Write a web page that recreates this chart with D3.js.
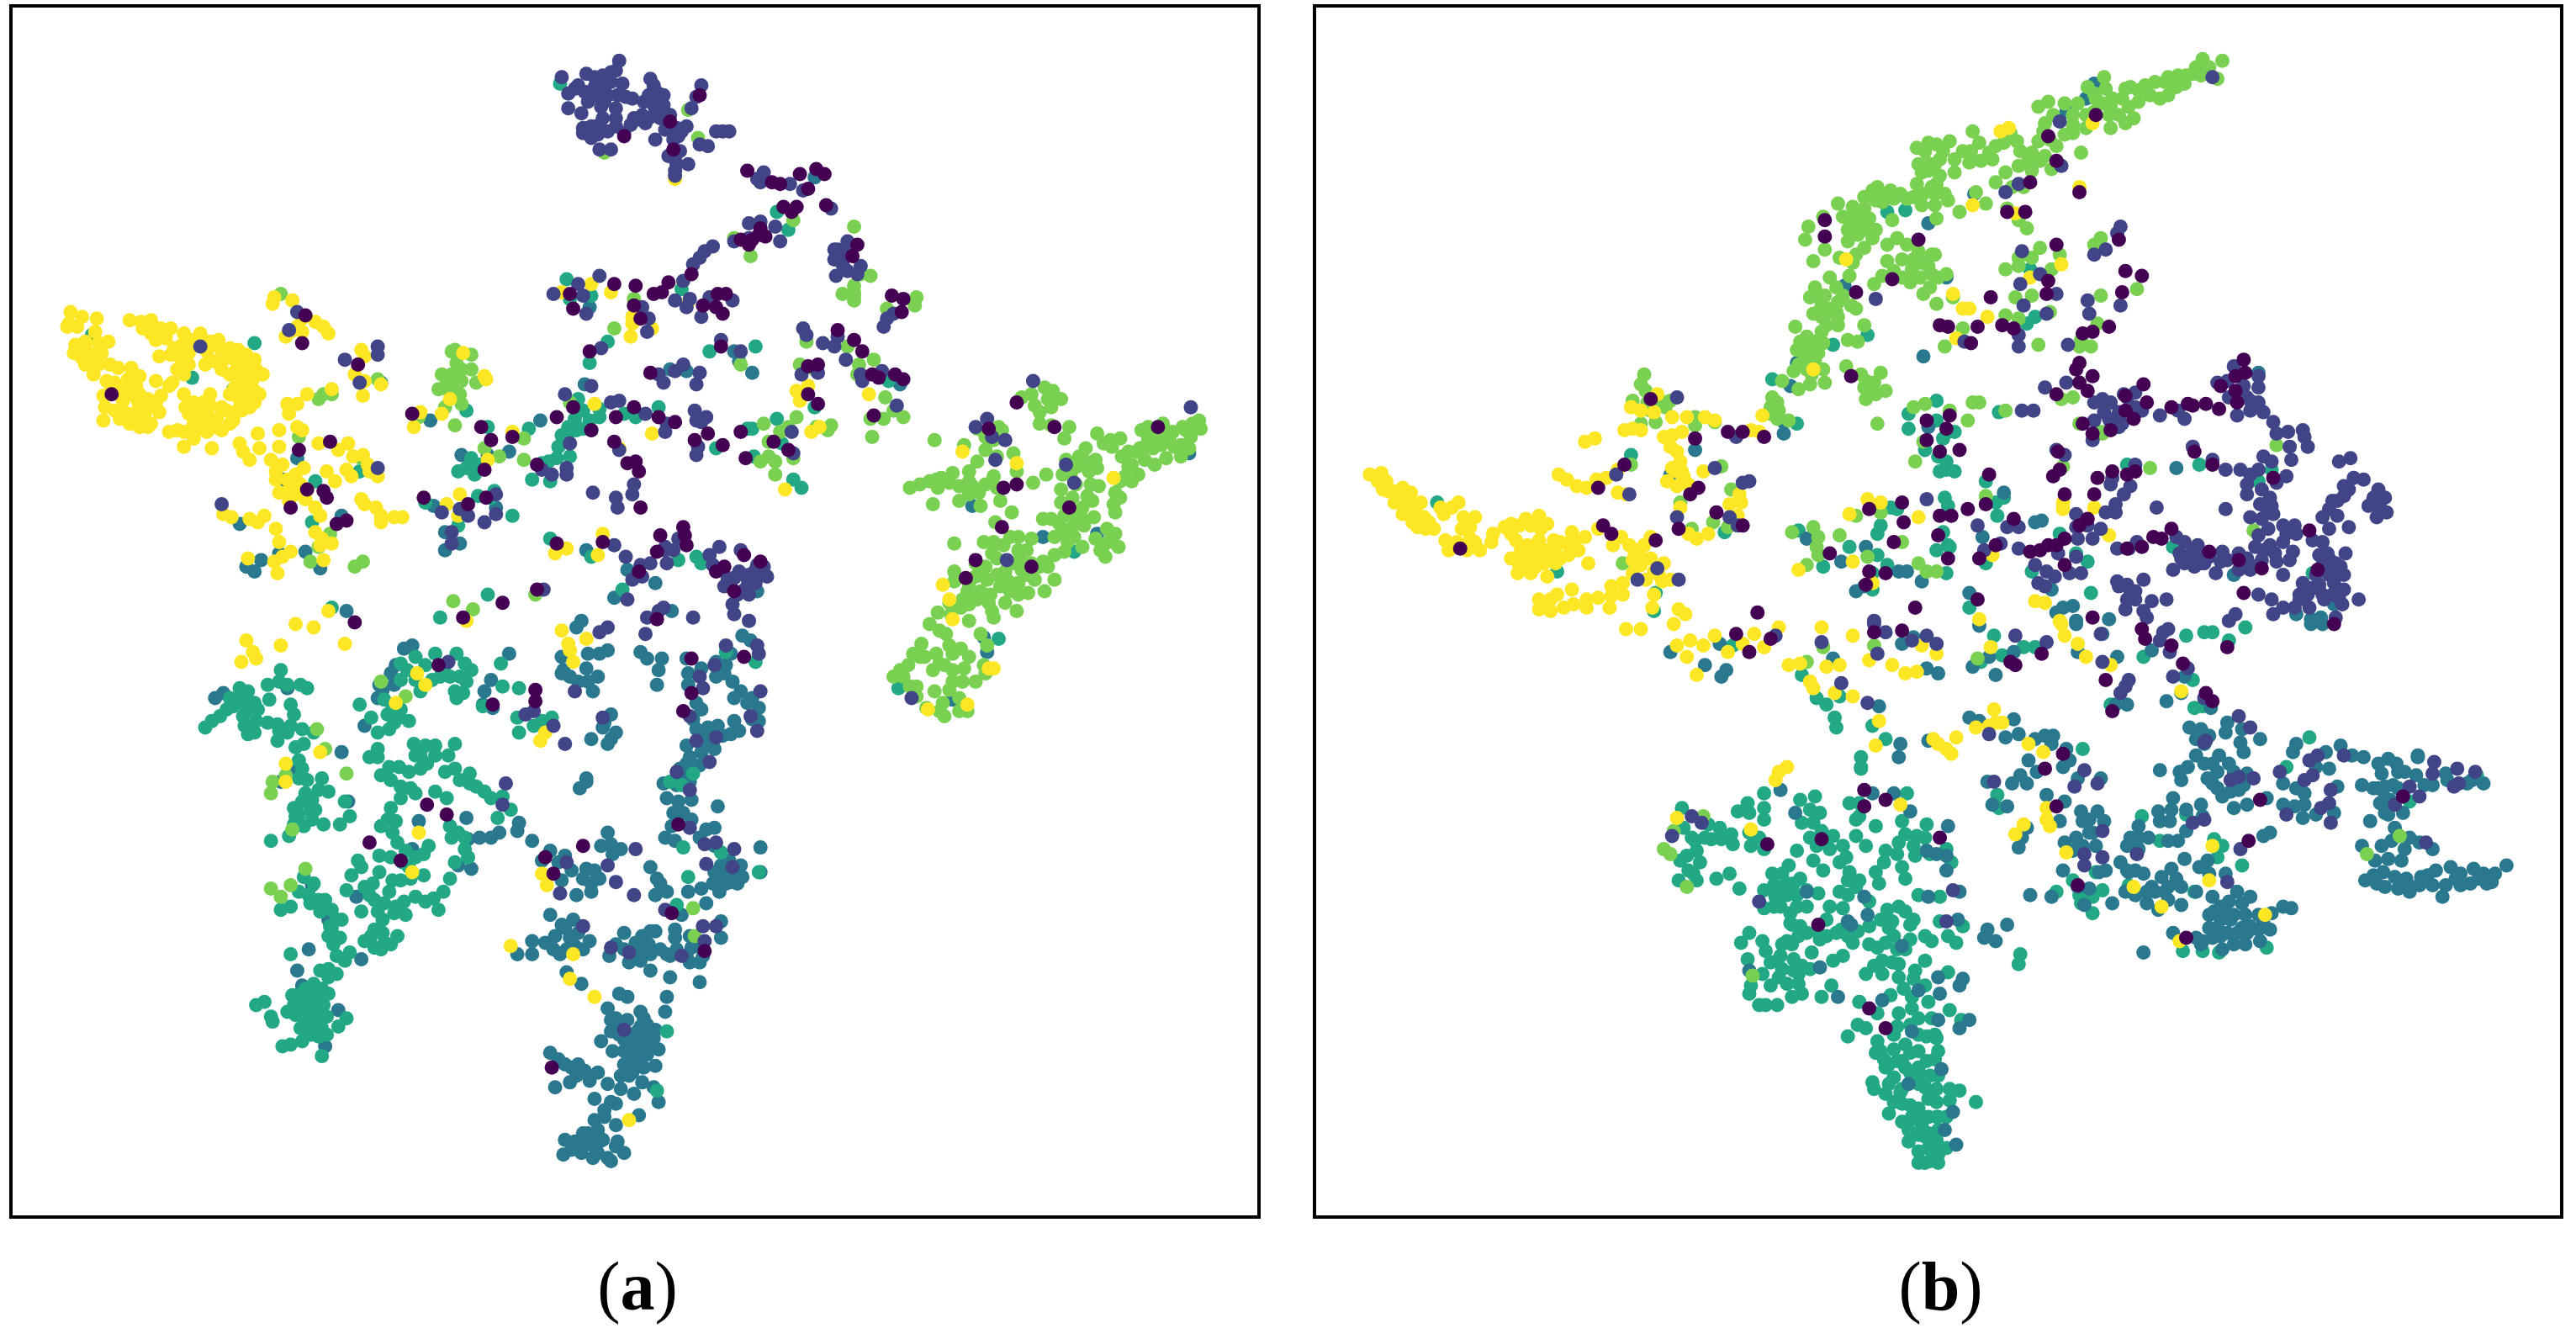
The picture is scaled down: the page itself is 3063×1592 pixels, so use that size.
<!DOCTYPE html>
<html>
<head>
<meta charset="utf-8">
<script src="https://cdn.jsdelivr.net/npm/d3@7/dist/d3.min.js"></script>
<style>html,body{margin:0;padding:0;background:#fff}svg{display:block}</style>
</head>
<body>
<script>
const classColors = ["#440154","#414487","#2a788e","#22a884","#7ad151","#fde725"];
const panelLabels = ["a","b"];

const aBlue = [[390,397],[394,401],[403,401],[401,408],[400,417],[418,401],[419,410],[427,407],[419,417],[424,428],[427,432],[436,412],[442,405],[446,415],[451,421],[452,387],[457,390],[436,403],[445,398],[455,428],[462,431],[462,439],[447,439],[445,447],[437,442],[431,443],[424,444],[434,449],[427,458],[435,456],[418,454],[420,461],[414,468],[420,476],[404,477],[421,487],[406,486],[413,488],[437,491],[421,499],[435,504],[409,503],[405,510],[426,510],[411,512],[435,515],[463,516],[463,531],[396,528],[400,535],[406,543],[399,545],[419,543],[427,541],[430,550],[415,557],[439,527],[444,524],[435,531],[442,538],[449,538],[451,527],[440,534],[446,532],[439,561],[439,571],[411,566],[411,571],[421,577],[420,586],[426,586],[426,598],[408,595],[408,582],[396,567],[399,567],[391,570],[406,581],[396,581],[390,585],[396,591],[406,607],[405,616],[390,616],[394,624],[399,627],[390,632],[396,634],[401,639],[394,642],[399,649],[390,648],[391,659],[398,662],[401,671],[389,679],[370,614],[372,621],[366,634],[382,621],[385,630],[377,630],[387,638],[380,648],[385,653],[378,663],[372,671],[386,666],[362,669],[364,688],[375,685],[355,690],[344,694],[343,703],[354,702],[360,697],[364,702],[370,705],[372,707],[380,702],[361,705],[367,694],[357,697],[335,641],[338,662],[344,648],[352,648],[351,655],[347,659],[359,658],[364,653],[375,620],[380,640],[390,625],[383,655],[368,680],[376,695],[335,557],[342,563],[349,560],[352,568],[332,574],[337,578],[341,581],[347,571],[359,573],[355,578],[324,573],[315,581],[324,581],[345,592],[354,599],[377,605],[382,607],[380,568],[371,582],[383,586],[387,574],[370,507],[372,514],[378,517],[357,529],[365,535],[360,543],[351,545],[342,536],[335,518],[330,524],[344,521],[324,512],[315,506],[316,501],[304,507],[299,510],[292,510],[285,511],[287,529],[279,527],[284,498],[357,474],[353,480],[357,476],[342,400],[342,410],[352,415],[361,421],[357,407],[365,398],[370,396],[372,435],[367,443],[360,450],[370,453],[375,446],[364,412],[351,382],[251,393],[241,405],[231,417],[230,425],[240,417],[222,442],[299,414],[295,421],[294,429],[300,431],[310,398],[131,425],[136,422],[175,419],[208,458],[181,469],[171,476],[190,539],[200,560],[217,546],[220,584],[188,578],[181,591],[184,600],[206,615],[198,637],[212,488],[255,500],[251,517],[281,277],[297,277],[310,275],[329,256],[264,308],[302,309],[262,256],[271,324],[271,335],[280,331],[359,187],[356,234],[173,292],[146,319],[208,314],[170,337],[159,341],[150,345],[155,348],[186,336],[195,346],[181,279],[232,233],[211,372],[354,378],[374,364],[382,347],[357,335],[399,355],[461,360],[409,372],[496,108],[592,308],[635,327],[668,325],[724,276],[580,426],[601,397],[599,388],[548,234],[447,214],[450,220],[458,227],[408,225],[418,226],[372,628],[378,625],[384,635],[373,640],[380,633],[390,640],[395,630],[385,645],[392,650],[378,655],[370,660],[375,672],[368,676],[362,682],[358,690],[350,695],[348,700],[365,695],[375,698],[340,645],[348,650],[356,652],[441,410],[447,425],[458,425],[458,438],[450,445],[440,448],[430,452],[426,466],[418,465],[415,472],[412,478],[428,448],[422,438],[410,495],[416,495],[430,505],[440,530],[445,537],[438,543],[434,538],[452,534],[402,538],[395,575],[402,578],[412,578],[418,582],[424,575],[420,570],[428,582],[344,565],[338,570],[350,576],[345,578],[386,580],[390,578],[380,578],[375,575],[392,620],[398,632],[388,628],[394,636],[384,650],[340,525],[348,530],[355,535],[362,530],[366,515],[373,520],[360,538],[343,408],[347,412],[358,398],[358,415],[368,440],[372,450],[238,410],[233,420],[246,395]];

const aTeal = [[125,443],[129,439],[134,436],[138,432],[140,425],[146,419],[151,421],[149,428],[155,428],[148,436],[149,442],[151,447],[155,446],[156,439],[163,440],[169,441],[175,446],[169,451],[177,442],[179,435],[177,429],[164,426],[163,417],[170,415],[171,408],[175,417],[183,417],[187,419],[146,426],[184,444],[191,446],[185,453],[182,463],[182,474],[187,475],[196,474],[194,481],[200,482],[186,483],[179,492],[189,493],[182,496],[192,493],[179,502],[185,503],[197,502],[176,509],[165,512],[190,499],[210,488],[213,497],[207,502],[219,429],[226,437],[230,446],[237,444],[236,435],[243,437],[249,439],[239,431],[244,414],[253,414],[248,408],[253,400],[244,404],[265,398],[263,414],[268,412],[274,412],[278,398],[283,404],[287,408],[284,415],[282,422],[277,421],[278,425],[256,421],[305,404],[306,418],[316,419],[294,430],[315,437],[316,446],[325,442],[330,439],[336,437],[230,456],[230,461],[225,461],[232,472],[237,467],[243,467],[249,470],[256,468],[253,460],[252,453],[259,454],[265,454],[265,460],[273,460],[277,453],[277,468],[286,471],[286,477],[295,482],[299,486],[306,485],[311,493],[303,498],[244,479],[253,483],[272,486],[265,482],[238,492],[236,499],[232,503],[239,507],[242,513],[247,518],[253,522],[261,515],[249,528],[244,486],[274,503],[279,507],[283,517],[285,522],[277,525],[274,535],[270,543],[258,533],[231,521],[238,522],[218,524],[220,528],[231,531],[214,533],[211,542],[222,540],[227,538],[228,548],[234,550],[241,552],[247,557],[246,549],[253,546],[259,549],[264,547],[267,554],[244,536],[239,536],[237,543],[233,560],[228,566],[222,573],[228,577],[232,578],[238,575],[242,570],[233,568],[185,534],[191,538],[194,548],[198,548],[182,543],[177,552],[171,554],[189,550],[202,554],[201,564],[208,560],[200,570],[207,571],[203,575],[213,580],[210,585],[205,593],[195,591],[177,581],[191,599],[186,602],[181,606],[191,607],[200,605],[196,602],[179,612],[186,613],[194,614],[175,616],[184,619],[192,619],[199,619],[187,624],[195,624],[189,630],[199,630],[194,631],[211,620],[206,625],[184,634],[177,636],[172,637],[196,643],[156,612],[161,610],[165,619],[166,622],[185,609],[352,243],[365,254],[359,256],[365,249],[346,260],[355,261],[346,264],[342,265],[351,262],[322,261],[387,254],[380,252],[347,278],[339,279],[334,281],[324,292],[335,293],[312,314],[279,287],[287,279],[292,283],[289,289],[284,285],[299,303],[301,299],[291,302],[259,306],[279,320],[284,250],[297,260],[345,170],[360,180],[347,182],[359,221],[370,208],[56,204],[155,209],[117,230],[219,287],[192,293],[190,318],[202,370],[268,376],[297,362],[335,328],[360,339],[379,359],[460,403],[442,397],[422,471],[408,476],[416,516],[439,519],[419,534],[412,551],[406,628],[400,664],[462,531],[415,478],[424,339],[427,343],[413,341],[473,129],[480,140],[432,214],[460,211],[401,248],[473,255],[455,261],[458,261],[476,270],[459,278],[483,292],[488,297],[496,248],[541,232],[415,176],[341,51],[398,53],[654,336],[547,419],[608,389],[436,273],[355,250],[350,255],[345,268],[340,272],[330,282],[360,262],[185,613],[190,625],[180,618],[193,608],[187,606],[196,626],[190,614],[197,612],[183,626],[178,606],[240,440],[244,432],[234,426],[259,405],[271,405],[280,412],[256,460],[260,465],[238,475],[250,480],[241,500],[245,525],[258,520],[250,535],[225,545],[220,555],[230,555],[240,556],[205,582],[202,565],[188,545],[195,555],[205,560],[150,433],[142,430],[157,432],[170,445],[180,455],[184,468],[190,487],[184,488],[180,497],[200,590],[200,595],[226,570],[234,574],[271,470],[280,475],[290,479],[275,510],[283,510]];

const aLime = [[554,297],[560,295],[566,293],[573,291],[580,288],[568,307],[571,297],[584,296],[590,301],[584,305],[597,308],[590,287],[595,281],[600,274],[587,271],[595,261],[608,260],[605,268],[617,276],[619,287],[607,297],[609,305],[629,294],[637,289],[569,268],[616,312],[606,318],[581,331],[622,242],[636,236],[638,243],[646,243],[633,251],[633,258],[640,259],[651,260],[648,267],[628,240],[641,238],[668,264],[676,268],[682,267],[661,273],[677,272],[657,278],[667,280],[683,278],[649,280],[656,284],[647,289],[663,287],[664,295],[669,296],[662,302],[653,303],[646,298],[646,306],[659,309],[648,314],[645,319],[640,316],[635,316],[666,315],[659,316],[653,321],[647,324],[642,327],[654,327],[659,333],[648,336],[642,338],[628,328],[682,293],[689,293],[693,289],[687,284],[678,307],[679,312],[679,300],[692,275],[697,272],[703,267],[699,260],[708,258],[714,263],[720,260],[726,258],[730,256],[731,261],[725,266],[719,271],[719,278],[724,273],[710,279],[703,283],[697,280],[702,273],[707,271],[712,268],[694,273],[699,268],[705,264],[689,283],[679,325],[674,322],[681,333],[673,339],[672,332],[667,328],[599,330],[605,330],[615,327],[620,327],[604,337],[611,332],[620,335],[614,343],[621,341],[622,347],[612,348],[635,342],[628,343],[633,345],[581,348],[594,343],[594,351],[601,353],[581,354],[609,357],[614,354],[620,355],[630,353],[642,353],[636,360],[626,361],[620,362],[589,360],[597,360],[586,365],[578,367],[571,373],[579,374],[585,370],[602,367],[604,372],[619,372],[612,367],[605,376],[595,365],[576,386],[578,393],[561,392],[556,398],[570,398],[580,398],[553,405],[544,412],[550,412],[558,418],[558,424],[568,408],[569,421],[574,428],[564,431],[575,436],[584,425],[584,433],[589,433],[580,415],[580,408],[587,407],[594,415],[597,386],[601,393],[599,405],[600,410],[566,380],[590,378],[560,400],[425,84],[419,67],[368,93],[483,134],[457,156],[447,145],[520,138],[524,167],[530,168],[520,174],[513,179],[520,180],[520,183],[520,178],[558,181],[557,186],[540,188],[491,208],[516,211],[487,222],[532,219],[523,222],[522,228],[496,225],[451,222],[539,242],[544,250],[538,255],[530,255],[550,254],[531,266],[465,258],[485,254],[480,260],[475,263],[468,269],[483,279],[463,281],[468,278],[472,281],[472,289],[506,259],[504,262],[497,260],[275,214],[287,216],[269,228],[275,228],[281,225],[287,225],[267,237],[274,239],[281,232],[271,248],[281,246],[290,233],[277,213],[277,259],[319,267],[319,280],[304,278],[295,273],[255,254],[347,245],[171,179],[142,237],[197,240],[194,243],[202,240],[230,231],[182,266],[220,279],[194,333],[201,325],[189,342],[216,345],[221,342],[276,366],[288,371],[326,362],[386,182],[374,200],[193,444],[198,456],[211,471],[174,472],[166,476],[165,483],[178,505],[186,529],[165,541],[171,546],[177,539],[232,415],[247,424],[422,553],[423,570],[625,335],[617,343],[607,340],[607,350],[596,350],[590,355],[600,345],[615,360],[625,350],[638,345],[603,362],[590,368],[650,330],[655,315],[660,320],[665,305],[655,295],[652,288],[668,285],[660,280],[672,270],[687,275],[695,262],[700,264],[715,272],[722,262],[708,262],[685,290],[682,303],[675,330],[670,335],[570,292],[578,294],[590,293],[592,296],[600,295],[596,300],[605,290],[607,278],[600,266],[610,262],[640,248],[630,247],[572,404],[563,400],[548,408],[554,418],[575,405],[586,415],[572,384],[585,395],[590,400],[578,420],[572,433],[280,240],[275,235],[272,232],[278,221]];

const aYellow = [[43,190],[50,193],[42,197],[47,199],[59,194],[41,199],[46,210],[52,208],[45,215],[52,213],[60,209],[66,208],[50,218],[56,216],[62,215],[60,222],[52,222],[67,222],[72,224],[80,224],[85,229],[78,231],[70,233],[66,240],[75,238],[80,240],[83,235],[63,241],[79,195],[86,196],[92,195],[87,200],[92,203],[98,200],[95,207],[104,200],[101,206],[112,203],[118,207],[111,210],[106,212],[97,217],[104,216],[122,203],[128,208],[133,207],[126,214],[134,212],[140,212],[145,213],[131,220],[138,218],[144,220],[150,216],[155,219],[156,225],[150,224],[144,225],[147,231],[154,231],[160,228],[143,236],[150,236],[155,238],[147,243],[152,243],[140,240],[158,240],[152,248],[145,250],[155,245],[146,248],[108,225],[115,222],[112,228],[95,232],[103,235],[98,241],[105,233],[85,240],[90,243],[88,250],[95,245],[84,250],[75,244],[70,250],[64,248],[63,256],[73,255],[78,252],[82,256],[88,253],[90,260],[97,251],[92,258],[85,260],[79,258],[74,250],[112,240],[118,245],[115,252],[124,245],[113,248],[120,250],[128,240],[128,247],[135,248],[132,255],[138,250],[130,260],[123,255],[142,256],[142,252],[147,250],[103,263],[108,262],[112,263],[116,262],[120,257],[125,260],[118,267],[120,262],[126,263],[130,255],[112,272],[129,273],[122,254],[146,270],[157,264],[170,262],[181,260],[184,262],[175,246],[181,246],[176,252],[187,240],[202,237],[158,273],[165,280],[152,280],[148,275],[170,272],[194,270],[206,274],[212,270],[215,278],[224,283],[221,277],[211,286],[214,290],[230,290],[199,287],[204,293],[180,289],[178,295],[174,300],[180,301],[185,285],[168,287],[168,292],[186,304],[192,309],[195,314],[220,304],[222,307],[229,309],[232,314],[240,315],[245,315],[232,318],[136,313],[141,315],[152,316],[157,318],[161,314],[168,322],[170,330],[177,336],[167,342],[169,349],[172,339],[151,340],[192,324],[196,328],[202,331],[195,332],[197,341],[280,301],[279,314],[272,307],[338,337],[345,334],[367,325],[364,338],[167,181],[166,185],[178,183],[192,196],[197,199],[200,203],[184,194],[181,199],[177,202],[174,205],[184,202],[220,213],[222,217],[216,228],[222,232],[232,234],[221,241],[282,215],[295,229],[296,231],[274,243],[269,252],[256,251],[252,260],[297,280],[312,263],[385,193],[385,197],[384,205],[372,178],[360,173],[342,178],[362,246],[377,273],[419,184],[397,200],[485,238],[487,244],[492,235],[529,240],[494,263],[499,260],[397,264],[478,298],[586,275],[619,282],[678,291],[574,356],[578,365],[580,377],[411,109],[174,465],[195,458],[174,476],[255,507],[241,428],[254,410],[259,417],[251,531],[329,451],[332,446],[311,576],[349,581],[347,596],[362,607],[330,532],[333,539],[383,682],[347,396],[349,403],[342,384],[346,392],[357,389],[150,390],[154,397],[156,401],[147,403],[180,380],[191,382],[210,392],[171,393],[200,372],[284,378],[605,407],[602,407],[589,429],[565,432],[57,228],[65,232],[58,202],[72,240],[110,218],[115,215],[135,225],[152,228],[140,228],[134,222],[125,222],[145,242],[118,258],[125,250],[135,262],[140,258],[92,248],[84,244],[170,300],[176,305],[183,295],[187,298],[175,292],[172,283],[225,287]];

const aNavy = [[342,47],[346,57],[352,52],[357,45],[362,53],[367,46],[375,43],[377,37],[379,51],[381,59],[346,66],[354,69],[366,65],[375,66],[367,72],[375,77],[386,72],[360,77],[355,81],[364,82],[380,81],[365,91],[372,91],[350,54],[360,58],[365,59],[398,52],[401,57],[398,64],[391,70],[401,65],[393,75],[404,64],[399,85],[418,77],[421,66],[424,59],[427,52],[410,85],[414,92],[411,97],[411,104],[411,107],[419,100],[440,80],[436,80],[444,80],[426,88],[431,89],[372,50],[385,60],[392,62],[412,78],[405,72],[461,109],[465,105],[463,111],[481,112],[489,116],[506,127],[456,136],[463,135],[472,138],[475,147],[447,147],[456,145],[434,150],[429,153],[426,157],[422,161],[416,171],[411,183],[418,187],[432,181],[446,183],[427,193],[391,187],[395,194],[394,202],[508,152],[516,147],[508,158],[513,161],[518,151],[524,162],[522,167],[509,168],[544,191],[540,194],[538,199],[489,200],[491,204],[501,209],[510,205],[508,211],[515,219],[488,228],[498,227],[524,228],[525,232],[537,226],[439,207],[451,214],[401,228],[404,233],[411,226],[416,222],[426,227],[424,234],[393,252],[406,258],[405,263],[423,250],[430,254],[424,256],[427,257],[425,272],[424,277],[482,263],[483,276],[546,247],[629,232],[725,248],[601,255],[594,260],[612,268],[604,266],[606,280],[649,283],[654,294],[613,341],[337,179],[352,173],[355,180],[365,168],[357,191],[366,212],[344,240],[360,235],[347,270],[345,285],[345,289],[336,289],[330,286],[372,245],[377,244],[377,274],[361,300],[375,303],[376,309],[385,301],[386,295],[302,301],[269,312],[280,310],[285,314],[275,324],[275,331],[295,318],[302,313],[181,190],[176,201],[230,211],[230,216],[210,219],[219,233],[122,211],[135,307],[230,285],[381,339],[385,353],[390,344],[382,365],[331,359],[374,332],[413,328],[405,335],[410,335],[396,343],[406,343],[391,351],[438,333],[432,338],[451,335],[434,344],[461,344],[461,350],[467,351],[456,350],[445,354],[441,357],[455,357],[449,362],[446,368],[447,374],[456,362],[456,378],[422,376],[404,370],[401,372],[394,376],[273,403],[320,435],[325,433],[337,442],[344,453],[308,477],[306,490],[367,437],[350,421],[365,385],[370,382],[345,525],[370,527],[375,537],[341,544],[386,545],[355,564],[372,577],[383,580],[380,627],[387,517],[393,386],[435,405],[426,412],[428,419],[420,436],[436,449],[424,451],[432,464],[412,470],[420,481],[420,504],[457,436],[463,421],[461,445],[447,517],[436,513],[429,514],[430,526],[446,528],[428,564],[436,564],[415,582],[429,573],[405,554],[442,393],[461,393],[462,398],[555,425],[356,56],[370,58],[376,58],[368,52],[362,47],[372,44],[384,76],[390,73],[395,72],[398,70],[395,58],[404,58],[396,48],[358,62],[368,62],[375,72],[370,80],[360,84],[410,92],[412,100],[407,95],[413,83],[405,79],[415,80],[355,78],[365,76],[402,72],[408,70],[455,352],[460,347],[450,348],[460,355],[465,345],[452,360],[447,352],[443,352],[515,155],[510,152],[516,165],[420,182],[405,333]];

const aPurple = [[426,58],[408,74],[410,91],[380,83],[455,104],[470,111],[475,112],[487,106],[492,115],[497,103],[502,106],[503,125],[477,126],[485,126],[482,129],[451,146],[456,149],[462,143],[466,144],[458,146],[463,139],[421,167],[407,172],[403,178],[398,179],[437,179],[442,179],[428,186],[436,187],[440,191],[390,194],[522,149],[519,156],[543,180],[550,182],[549,190],[510,201],[520,207],[525,214],[492,223],[498,222],[531,228],[535,230],[545,228],[550,231],[532,253],[498,246],[492,240],[439,211],[396,227],[401,254],[411,257],[431,264],[423,268],[440,271],[451,263],[471,269],[480,274],[454,279],[619,245],[642,260],[602,261],[611,297],[619,295],[610,321],[588,352],[594,341],[628,345],[651,309],[705,260],[347,179],[349,188],[374,173],[359,214],[387,174],[386,186],[339,254],[375,254],[386,248],[299,268],[293,260],[312,266],[327,283],[374,269],[382,282],[387,281],[389,287],[390,309],[251,252],[258,303],[285,307],[296,303],[295,286],[360,262],[349,248],[186,192],[184,209],[218,222],[68,240],[201,269],[182,274],[187,298],[197,299],[199,303],[177,309],[205,319],[211,317],[216,379],[306,367],[282,376],[327,359],[339,331],[367,330],[389,348],[402,326],[416,321],[417,326],[418,332],[400,336],[441,345],[436,348],[463,342],[453,338],[447,360],[400,377],[267,405],[326,420],[326,427],[300,429],[260,490],[272,496],[225,513],[244,524],[355,515],[332,522],[337,532],[336,650],[421,401],[421,422],[416,433],[453,400],[413,502],[409,556],[429,579]];

const bTeal = [[1024,492],[1025,504],[1030,510],[1040,502],[1047,504],[1042,511],[1048,511],[1054,508],[1055,514],[1033,518],[1027,521],[1023,524],[1031,532],[1033,536],[1022,536],[1045,535],[1053,532],[1059,541],[1064,489],[1065,495],[1058,494],[1074,483],[1074,492],[1074,499],[1065,507],[1066,515],[1074,517],[1071,510],[1096,487],[1102,493],[1097,501],[1104,501],[1109,506],[1102,510],[1116,509],[1114,517],[1106,515],[1104,524],[1094,518],[1124,522],[1130,509],[1136,515],[1142,503],[1126,531],[1125,536],[1132,536],[1142,531],[1144,538],[1089,527],[1079,532],[1074,542],[1085,532],[1096,535],[1080,539],[1088,538],[1081,546],[1074,553],[1080,552],[1094,552],[1090,556],[1096,564],[1091,563],[1107,544],[1114,552],[1120,543],[1122,553],[1138,549],[1065,568],[1060,574],[1073,573],[1075,579],[1088,573],[1091,575],[1100,568],[1106,567],[1112,570],[1121,566],[1128,574],[1131,567],[1138,564],[1084,582],[1078,586],[1083,595],[1073,593],[1064,584],[1066,600],[1065,605],[1078,600],[1092,584],[1097,588],[1103,580],[1092,591],[1116,585],[1122,582],[1088,599],[1095,599],[1097,605],[1091,607],[1109,607],[1115,600],[1071,612],[1075,612],[1082,612],[1132,497],[1126,489],[1132,489],[1130,499],[1161,483],[1158,500],[1167,509],[1173,502],[1156,513],[1148,518],[1166,521],[1158,528],[1133,461],[1133,468],[1149,554],[1156,552],[1152,561],[1163,563],[1153,570],[1148,574],[1143,577],[1176,573],[1172,585],[1141,588],[1152,586],[1136,593],[1146,593],[1156,595],[1166,591],[1159,602],[1164,607],[1151,606],[1132,610],[1143,617],[1156,617],[1164,614],[1131,624],[1136,626],[1125,631],[1143,634],[1153,630],[1163,624],[1173,631],[1142,641],[1153,639],[1163,641],[1150,648],[1158,646],[1173,646],[1153,656],[1163,653],[1140,659],[1141,663],[1148,666],[1158,663],[1172,662],[1153,671],[1163,673],[1174,669],[1166,681],[1174,680],[1162,688],[1168,691],[1174,690],[1168,701],[1174,699],[1180,655],[1179,663],[1187,663],[1193,664],[1179,671],[1187,670],[1203,671],[1179,680],[1180,688],[1185,699],[1179,699],[1180,708],[1180,703],[1179,694],[1172,708],[1170,655],[1176,620],[1168,630],[1155,625],[1147,645],[1168,675],[1158,683],[1172,692],[1160,650],[1097,411],[1106,425],[1112,429],[1117,437],[1118,443],[1120,424],[1055,393],[1148,450],[1140,442],[1133,467],[1236,164],[1239,193],[1234,197],[1295,283],[1339,283],[1383,286],[1375,293],[1254,325],[1216,314],[1220,303],[1209,293],[1215,306],[1184,303],[1186,308],[1183,324],[1186,332],[1209,343],[1237,348],[1271,342],[1264,337],[1323,333],[1273,361],[1199,370],[1183,267],[1180,278],[1185,286],[1190,287],[1181,287],[1185,281],[1186,263],[1190,263],[1217,251],[1179,256],[1179,244],[1408,349],[1187,333],[1179,335],[1185,349],[1214,387],[1206,403],[1219,399],[1232,394],[1239,394],[1331,387],[1342,385],[1347,385],[1357,390],[1367,382],[1305,400],[1335,414],[1336,431],[1341,430],[1285,429],[1268,456],[1216,484],[1217,492],[1185,517],[1188,525],[1181,546],[1181,561],[1186,570],[1191,574],[1195,564],[1230,581],[1229,587],[1186,592],[1187,615],[1194,621],[1179,632],[1304,497],[1315,512],[1331,496],[1348,511],[1353,515],[1350,522],[1365,527],[1336,543],[1296,539],[1276,531],[1280,542],[1274,546],[1266,545],[1267,550],[1252,543],[1262,536],[1274,556],[1329,579],[1341,579],[1351,580],[1380,577],[1406,449],[1392,467],[1467,488],[1508,472],[1079,231],[1149,129],[1160,128],[1116,210],[1137,204],[1094,258],[1050,324],[1095,323],[1110,345],[1151,309],[1155,310],[1145,320],[1143,325],[1143,338],[1126,333],[1140,349],[1149,344],[1140,359],[1162,252],[1162,261],[1172,274],[875,306],[993,277],[948,348],[1008,361],[1007,372],[1145,640],[1148,650],[1155,646],[1160,636],[1168,640],[1150,660],[1157,665],[1168,660],[1150,678],[1158,672],[1175,655],[1178,645],[1168,650],[1178,630],[1168,620],[1174,610],[1180,640],[1172,600],[1165,596],[1172,570],[1163,572],[1155,578],[1146,585],[1156,587],[1160,578],[1164,680],[1170,685],[1180,680],[1185,680],[1175,700],[1162,695],[1175,707],[1168,708],[1085,540],[1092,538],[1100,542],[1088,545],[1084,552],[1094,545],[1090,562],[1085,575],[1082,585],[1085,590],[1095,570],[1108,572],[1118,568],[1125,570],[1095,593],[1102,590],[1038,510],[1035,525],[1028,530],[1032,512],[1125,545],[1112,560],[1100,552],[1110,530],[1120,525],[1130,540],[1105,485],[1108,495],[1112,510],[1122,515],[1147,525],[1155,520],[1165,515],[1160,508],[1172,510],[1175,520],[1168,545],[1165,560],[1150,565],[1160,555],[1145,560],[1138,575],[1160,535]];

const bBlue = [[1333,443],[1340,444],[1342,453],[1337,460],[1332,467],[1327,470],[1328,475],[1347,465],[1357,465],[1355,446],[1365,444],[1356,440],[1376,450],[1364,452],[1366,458],[1315,469],[1347,477],[1368,471],[1363,481],[1353,485],[1360,492],[1368,490],[1380,486],[1382,507],[1378,509],[1398,453],[1396,458],[1416,458],[1425,454],[1432,460],[1439,461],[1410,467],[1418,468],[1423,479],[1390,477],[1403,483],[1390,490],[1397,491],[1402,498],[1410,496],[1421,495],[1454,462],[1450,471],[1460,470],[1438,478],[1452,479],[1449,489],[1454,496],[1458,504],[1443,500],[1472,461],[1471,472],[1481,478],[1489,471],[1463,495],[1467,510],[1473,513],[1481,517],[1464,517],[1462,524],[1454,523],[1446,524],[1438,515],[1451,531],[1440,536],[1447,538],[1458,534],[1460,541],[1467,543],[1473,539],[1474,534],[1481,539],[1487,546],[1489,539],[1492,528],[1498,532],[1506,529],[1504,538],[1514,538],[1512,532],[1519,532],[1526,527],[1498,539],[1502,477],[1512,477],[1464,470],[1452,486],[1457,478],[1291,525],[1296,531],[1305,532],[1316,534],[1322,529],[1307,543],[1312,543],[1300,545],[1294,543],[1307,550],[1314,554],[1320,548],[1328,540],[1330,523],[1328,551],[1339,528],[1344,524],[1355,532],[1345,532],[1337,543],[1347,546],[1352,552],[1357,549],[1362,543],[1370,546],[1352,560],[1360,557],[1367,557],[1375,557],[1383,556],[1390,552],[1395,553],[1382,566],[1375,566],[1376,573],[1367,575],[1360,575],[1353,578],[1347,571],[1356,568],[1337,571],[1323,568],[1341,573],[1305,580],[1370,564],[1350,565],[1345,557],[1355,555],[1365,565],[1314,494],[1322,493],[1331,493],[1340,490],[1341,497],[1323,486],[1302,503],[1315,500],[1321,500],[1308,510],[1297,510],[1295,515],[1302,517],[1326,512],[1320,512],[1331,506],[1267,494],[1277,494],[1272,499],[1281,500],[1274,507],[1264,510],[1257,513],[1276,515],[1262,518],[1278,531],[1256,530],[1236,545],[1249,546],[1272,541],[1286,550],[1269,551],[1235,463],[1240,470],[1256,467],[1260,463],[1225,477],[1234,477],[1230,472],[1265,474],[1279,474],[1210,476],[1246,484],[1257,488],[1254,500],[1213,490],[1222,491],[1234,504],[1229,516],[1231,510],[1199,437],[1205,439],[1226,438],[1221,449],[1229,447],[1239,450],[1245,448],[1250,448],[1249,453],[1186,503],[1185,521],[1179,520],[1193,543],[1210,566],[1222,563],[1208,571],[1215,573],[1193,600],[1195,596],[1180,595],[1181,605],[1199,621],[1193,626],[1180,621],[1182,651],[1189,677],[1191,697],[1184,688],[1205,381],[1264,380],[1265,397],[1201,406],[1215,411],[1226,397],[1211,400],[1289,400],[1280,386],[1310,396],[1330,412],[1328,422],[1319,427],[1346,431],[1295,429],[1288,429],[1407,380],[1414,380],[1084,481],[1093,495],[1100,543],[1137,557],[1135,546],[1125,561],[1127,563],[1158,576],[1164,628],[1162,660],[1119,607],[1108,589],[1065,591],[1146,609],[1168,603],[1173,518],[1174,546],[1174,451],[1157,453],[1156,461],[1140,483],[1163,494],[1153,483],[1116,401],[1047,392],[1038,405],[1051,408],[1048,412],[1017,397],[1144,430],[1173,407],[1158,392],[1275,51],[1258,68],[1270,60],[1375,227],[1243,317],[1239,318],[1207,327],[1325,285],[1360,350],[1421,368],[1398,374],[1249,359],[1256,370],[1262,369],[1252,373],[1264,378],[1284,377],[1220,300],[1199,361],[1413,376],[1407,377],[1202,118],[1185,169],[1174,136],[1123,174],[1171,217],[1090,235],[1086,257],[1086,264],[1032,274],[1017,289],[1100,328],[1136,333],[1121,342],[1161,348],[1156,348],[1170,354],[1130,360],[1135,357],[1094,221],[1174,260],[1352,570],[1348,555],[1358,560],[1362,568],[1368,568],[1378,562],[1365,550],[1345,565],[1340,575],[1320,540],[1300,530],[1310,540],[1318,543],[1325,535],[1342,465],[1344,474],[1350,470],[1358,482],[1350,480],[1360,470],[1366,478],[1337,450],[1345,448],[1351,460],[1452,495],[1448,480],[1455,487],[1445,480],[1460,480],[1459,465],[1448,465],[1456,512],[1452,540],[1445,533],[1465,535],[1478,533],[1483,530],[1495,535],[1509,535],[1517,537],[1450,515],[1468,540],[1472,460],[1490,475],[1505,475],[1476,478],[1268,500],[1268,515],[1272,507],[1265,540],[1282,530],[1302,510],[1295,530],[1165,388],[1180,410],[1185,530],[1192,560],[1258,456],[1403,490],[1398,480]];

const bLime = [[1353,37],[1341,36],[1337,41],[1350,48],[1340,46],[1331,46],[1326,46],[1320,47],[1330,51],[1325,53],[1312,50],[1306,52],[1297,53],[1294,54],[1320,58],[1315,60],[1309,58],[1302,62],[1296,65],[1299,72],[1294,75],[1281,47],[1271,53],[1282,54],[1286,60],[1280,63],[1276,60],[1284,70],[1285,78],[1265,63],[1257,63],[1247,62],[1241,65],[1262,70],[1270,78],[1262,81],[1245,75],[1244,80],[1257,82],[1252,89],[1241,86],[1267,93],[1201,80],[1224,81],[1228,86],[1230,92],[1237,93],[1245,95],[1249,103],[1215,89],[1220,87],[1211,93],[1205,87],[1206,98],[1199,99],[1190,97],[1187,86],[1181,97],[1179,88],[1181,107],[1179,112],[1229,101],[1237,104],[1221,105],[1215,111],[1225,114],[1232,114],[1203,117],[1209,124],[1186,122],[1193,129],[1178,118],[1179,133],[1222,127],[1229,134],[1234,139],[1242,151],[1254,155],[1249,164],[1229,157],[1221,164],[1229,162],[1237,157],[1227,181],[1237,180],[1279,145],[1275,149],[1279,180],[1301,176],[1277,197],[1267,207],[1273,211],[1266,211],[1241,210],[1184,211],[1195,200],[1221,192],[1229,194],[1248,190],[1189,181],[1179,185],[1185,167],[1180,169],[1178,155],[1201,245],[1205,245],[1221,250],[1262,242],[1255,243],[1266,258],[1279,263],[1198,256],[1187,250],[1174,87],[1167,90],[1173,99],[1174,104],[1143,114],[1140,116],[1151,116],[1167,112],[1171,118],[1161,121],[1153,121],[1142,122],[1146,123],[1176,114],[1119,124],[1128,126],[1135,127],[1110,132],[1122,132],[1131,133],[1138,133],[1152,134],[1101,138],[1099,146],[1125,140],[1131,143],[1140,145],[1111,152],[1104,159],[1135,151],[1130,155],[1120,157],[1149,149],[1155,145],[1161,149],[1168,153],[1176,155],[1149,159],[1158,158],[1164,164],[1174,162],[1126,168],[1114,169],[1146,168],[1141,173],[1158,169],[1169,169],[1171,179],[1105,175],[1102,181],[1111,180],[1119,184],[1127,186],[1109,186],[1104,191],[1119,193],[1130,188],[1109,193],[1119,198],[1093,199],[1109,202],[1135,198],[1125,207],[1131,208],[1096,208],[1104,208],[1094,213],[1101,213],[1110,209],[1099,217],[1107,215],[1124,223],[1110,225],[1092,226],[1100,225],[1133,228],[1145,227],[1136,232],[1141,233],[1148,238],[1136,243],[1111,233],[1102,234],[1095,237],[1085,232],[1143,258],[1079,242],[1078,248],[1078,252],[1083,250],[1089,256],[1001,228],[999,234],[1002,238],[994,244],[1011,244],[1017,244],[1008,257],[999,258],[1014,248],[1032,254],[1032,259],[1044,257],[1048,284],[1054,298],[993,283],[1023,306],[1043,318],[1052,321],[1030,322],[1104,321],[1107,327],[1106,333],[1107,338],[1120,326],[1158,330],[1168,343],[1100,344],[1137,339],[1145,312],[1130,314],[1173,348],[988,343],[1091,324],[1166,281],[1171,269],[1172,246],[1165,248],[1386,271],[1372,323],[1309,285],[1256,284],[1209,302],[1179,348],[1280,264],[1461,509],[1441,520],[1204,401],[1037,497],[1110,394],[1141,393],[1100,403],[1019,506],[1013,517],[1017,520],[1027,540],[1067,594],[1345,41],[1335,45],[1322,50],[1318,50],[1302,55],[1292,60],[1290,70],[1285,65],[1275,57],[1275,68],[1270,70],[1262,76],[1250,70],[1248,85],[1235,98],[1242,98],[1213,97],[1200,92],[1195,92],[1190,105],[1183,92],[1184,118],[1165,120],[1157,118],[1148,118],[1135,120],[1125,133],[1130,140],[1125,147],[1135,140],[1142,140],[1128,160],[1118,190],[1113,188],[1122,180],[1115,190],[1118,175],[1108,180],[1112,198],[1100,205],[1100,220],[1105,220],[1095,222],[1103,228],[1135,236],[1142,240],[1165,158],[1170,160],[1176,167],[1175,175],[1163,172],[1153,165],[1170,105],[1168,100],[1172,92],[1170,125],[1178,125],[1178,100],[1003,245],[1005,250],[1082,245],[1082,255]];

const bYellow = [[834,289],[841,288],[839,293],[844,293],[842,298],[848,299],[854,297],[859,300],[849,306],[854,307],[860,306],[865,306],[854,313],[860,314],[867,315],[863,321],[873,322],[877,309],[879,313],[888,306],[884,309],[891,315],[898,315],[895,321],[890,322],[880,329],[887,330],[882,335],[893,335],[898,330],[901,335],[909,325],[908,330],[916,321],[920,319],[929,316],[937,314],[932,320],[942,319],[923,329],[926,335],[937,329],[946,329],[957,324],[954,331],[965,327],[961,335],[930,337],[937,338],[947,336],[925,344],[931,344],[940,343],[947,343],[955,338],[967,343],[924,349],[932,349],[942,351],[973,322],[971,267],[965,269],[949,289],[954,292],[960,296],[966,297],[972,292],[978,291],[985,300],[985,286],[990,301],[987,327],[982,332],[992,332],[994,341],[1001,332],[1005,327],[999,344],[1013,343],[1007,348],[994,349],[1002,353],[1012,354],[1017,353],[981,357],[988,355],[981,363],[957,359],[966,365],[973,364],[952,370],[937,365],[944,365],[937,371],[944,372],[958,368],[966,370],[980,370],[1006,370],[1007,362],[1022,371],[1026,374],[993,248],[999,250],[1007,251],[1018,254],[989,262],[994,261],[999,262],[1009,240],[1027,254],[1038,254],[1044,256],[1066,262],[1071,263],[1073,253],[1013,266],[1024,263],[1017,272],[1021,275],[1023,281],[1021,287],[1025,290],[1015,293],[1021,296],[1028,295],[1037,287],[1059,301],[1060,306],[1053,307],[1058,314],[1023,309],[1028,325],[1033,328],[1040,325],[1124,158],[1104,225],[1095,347],[1126,313],[1137,304],[1145,306],[1168,315],[1128,342],[1140,355],[1218,80],[1223,78],[1201,125],[1266,114],[1227,130],[1189,179],[1195,188],[1199,188],[1210,193],[1255,161],[1236,169],[1191,206],[1256,306],[1256,310],[1275,309],[1213,338],[1284,326],[1239,366],[1245,367],[1205,377],[1254,378],[1274,75],[1214,432],[1215,440],[1203,443],[1211,442],[1219,440],[1191,449],[1180,453],[1185,456],[1188,459],[1235,453],[1244,458],[1246,492],[1246,499],[1248,503],[1227,508],[1232,502],[1258,519],[1257,387],[1265,392],[1270,400],[1212,394],[1285,405],[1328,421],[1179,398],[1345,536],[1316,552],[1379,557],[1327,573],[1347,515],[1299,540],[1255,380],[990,383],[999,383],[1019,380],[1021,393],[1029,390],[1037,393],[1027,400],[1033,411],[1044,387],[1052,397],[1061,392],[1074,394],[1068,386],[1083,382],[1109,382],[1112,406],[1120,405],[1089,405],[1096,404],[1102,415],[1104,419],[1117,422],[1128,424],[1128,387],[1138,402],[1152,405],[1160,410],[1167,409],[1170,393],[1144,439],[1142,454],[1157,490],[1083,470],[1088,467],[1081,475],[1021,498],[1066,505],[1177,450],[845,299],[850,302],[856,302],[868,322],[862,310],[860,318],[870,318],[885,332],[895,328],[920,325],[930,332],[935,332],[928,342],[945,338],[950,330],[942,335],[920,340],[935,345],[950,340],[958,330],[938,322],[925,320],[1000,340],[1005,340],[995,335],[988,362],[940,368],[948,362],[1010,350],[1018,265],[1024,287],[1018,285]];

const bNavy = [[1431,279],[1424,281],[1433,291],[1439,292],[1427,296],[1445,303],[1452,303],[1442,308],[1449,309],[1447,315],[1453,312],[1427,302],[1420,305],[1414,315],[1423,314],[1418,322],[1430,321],[1414,330],[1408,329],[1417,337],[1428,337],[1414,344],[1422,343],[1418,350],[1427,350],[1402,355],[1412,356],[1421,355],[1427,359],[1405,362],[1414,362],[1424,364],[1436,365],[1406,370],[1397,370],[1390,370],[1383,365],[1375,362],[1384,374],[1422,376],[1426,368],[1378,278],[1383,281],[1392,290],[1386,293],[1377,298],[1382,303],[1376,307],[1384,313],[1370,315],[1377,316],[1381,322],[1390,320],[1397,320],[1398,325],[1375,326],[1382,332],[1390,330],[1396,336],[1373,333],[1377,341],[1386,342],[1394,341],[1390,350],[1370,347],[1360,223],[1350,233],[1357,242],[1366,235],[1370,244],[1375,245],[1370,250],[1362,253],[1378,251],[1384,257],[1386,264],[1393,263],[1402,262],[1403,266],[1405,272],[1394,272],[1395,280],[1375,229],[1245,236],[1258,233],[1285,245],[1281,251],[1275,256],[1290,251],[1295,242],[1300,239],[1304,250],[1290,260],[1275,245],[1274,268],[1315,253],[1326,250],[1330,255],[1231,250],[1238,250],[1335,272],[1355,310],[1347,280],[1355,286],[1364,286],[1370,289],[1375,286],[1368,295],[1368,301],[1386,294],[1300,283],[1286,291],[1285,295],[1297,296],[1293,301],[1288,307],[1282,312],[1288,312],[1313,309],[1252,274],[1257,277],[1264,313],[1271,320],[1264,321],[1279,322],[1265,328],[1274,328],[1229,334],[1229,321],[1222,321],[1218,331],[1204,320],[1208,335],[1289,334],[1301,330],[1296,334],[1325,327],[1327,337],[1335,335],[1341,337],[1330,343],[1336,345],[1342,343],[1323,347],[1353,336],[1356,341],[1363,337],[1370,344],[1363,347],[1349,349],[1336,338],[1239,344],[1246,348],[1253,337],[1264,339],[1267,349],[1260,349],[1251,351],[1241,355],[1245,357],[1289,354],[1295,356],[1305,353],[1297,360],[1319,365],[1310,366],[1300,365],[1294,371],[1305,372],[1307,376],[1361,374],[1357,378],[1282,152],[1275,155],[1291,138],[1289,142],[1271,183],[1272,191],[1291,186],[1259,210],[1229,211],[1252,179],[1230,173],[1242,167],[1232,186],[1246,191],[1231,153],[1221,117],[1229,112],[1255,101],[1254,74],[1347,47],[1229,204],[1196,208],[1179,392],[1227,387],[1246,391],[1280,403],[1279,386],[1294,418],[1291,422],[1296,414],[1317,385],[1315,390],[1321,397],[1320,383],[1332,407],[1323,412],[1342,425],[1363,436],[1370,443],[1214,476],[1269,469],[1277,477],[1263,479],[1363,473],[1372,474],[1358,475],[1342,452],[1388,470],[1403,475],[1411,460],[1406,463],[1427,460],[1408,472],[1419,481],[1418,489],[1413,492],[1419,501],[1392,496],[1482,464],[1481,471],[1496,468],[1497,477],[1507,470],[1494,479],[1467,479],[1473,485],[1458,490],[1477,513],[1335,501],[1342,499],[1280,522],[1269,520],[1269,527],[1280,506],[1301,520],[1356,537],[1364,517],[1185,561],[1189,542],[1211,447],[1343,451],[1081,387],[1148,385],[1143,398],[1109,391],[1121,416],[1137,428],[1030,497],[1036,501],[1018,509],[1071,549],[1164,390],[1141,380],[1173,387],[1021,242],[1057,266],[984,289],[992,301],[1044,285],[1061,294],[1065,293],[1021,315],[1053,315],[1058,320],[997,353],[1009,346],[1022,353],[1142,182],[1173,304],[1141,378],[1415,338],[1420,348],[1410,350],[1418,340],[1425,345],[1412,338],[1420,362],[1415,365],[1408,358],[1400,362],[1405,358],[1430,298],[1423,305],[1418,310],[1448,298],[1383,308],[1380,310],[1392,325],[1378,335],[1385,337],[1330,330],[1328,340],[1340,343],[1345,339],[1352,342],[1368,340],[1338,332],[1375,236],[1368,242],[1356,232],[1284,255],[1280,243],[1292,258],[1300,248],[1285,257],[1293,240],[1300,360],[1290,357],[1295,365],[1400,365]];

const bPurple = [[1366,219],[1367,227],[1361,229],[1352,235],[1361,238],[1362,245],[1343,246],[1332,246],[1335,247],[1322,248],[1351,249],[1305,234],[1294,241],[1307,245],[1294,250],[1299,255],[1285,262],[1268,258],[1274,264],[1266,221],[1264,225],[1274,229],[1266,233],[1271,238],[1252,240],[1336,275],[1347,283],[1384,291],[1406,323],[1411,347],[1366,361],[1322,322],[1311,327],[1316,328],[1295,334],[1304,333],[1345,336],[1363,341],[1377,346],[1275,301],[1257,301],[1286,287],[1277,291],[1295,289],[1300,287],[1253,275],[1254,286],[1250,290],[1211,289],[1198,310],[1226,316],[1209,307],[1188,314],[1181,314],[1193,274],[1181,275],[1185,261],[1187,253],[1204,365],[1186,340],[1180,326],[1215,332],[1205,340],[1236,336],[1242,335],[1247,332],[1252,332],[1257,328],[1257,344],[1266,320],[1271,316],[1274,376],[1236,111],[1252,98],[1266,117],[1233,129],[1222,129],[1252,149],[1290,146],[1294,165],[1304,168],[1292,178],[1247,171],[1246,179],[1212,181],[1284,199],[1274,202],[1268,203],[1226,200],[1219,198],[1204,199],[1200,209],[1186,199],[1181,198],[1247,83],[1276,70],[1243,398],[1224,403],[1227,405],[1282,414],[1304,383],[1306,389],[1329,404],[1322,393],[1356,394],[1347,427],[1369,512],[1376,487],[1252,491],[1256,459],[1245,468],[1181,510],[1463,485],[1331,571],[1265,539],[1286,433],[1421,380],[1343,422],[1057,386],[1065,397],[1078,389],[1158,384],[1141,385],[1135,481],[1148,487],[1135,491],[1109,511],[1076,514],[1107,563],[1138,614],[1148,626],[1005,243],[1052,263],[1061,263],[1074,266],[1032,267],[989,283],[1034,297],[1029,301],[1111,134],[1111,144],[1130,178],[1152,170],[1127,229],[1168,146],[1173,256],[1173,268],[889,334],[973,297],[976,320],[981,325],[1008,329],[1045,312],[1022,322],[1061,320],[1070,373],[1138,310],[1158,306],[1159,318],[1153,330],[1114,337],[1148,349],[1138,348],[1136,356],[1166,370]];

const panels = [
  {label: panelLabels[0], xDomain:[6.7,766.5], range:[13,1497], layers:[[2,aBlue],[3,aTeal],[4,aLime],[5,aYellow],[1,aNavy],[0,aPurple]]},
  {label: panelLabels[1], xDomain:[800.3,1559.6], range:[1563,3046], layers:[[3,bTeal],[2,bBlue],[4,bLime],[5,bYellow],[1,bNavy],[0,bPurple]]}
];

const W = 3063, H = 1592;
const svg = d3.select("body").append("svg").attr("width",W).attr("height",H).attr("viewBox",`0 0 ${W} ${H}`);
svg.append("rect").attr("width",W).attr("height",H).attr("fill","#fff");
const y = d3.scaleLinear().domain([3.6,741]).range([7,1447]);
const color = d3.scaleOrdinal().domain(d3.range(6)).range(classColors);

panels.forEach(p => {
  const x = d3.scaleLinear().domain(p.xDomain).range(p.range);
  const g = svg.append("g");
  p.layers.forEach(([cls, pts]) => {
    g.append("g").attr("fill", color(cls)).selectAll("circle").data(pts).join("circle")
      .attr("cx", d => x(d[0])).attr("cy", d => y(d[1])).attr("r", 8.5);
  });
  g.append("rect").attr("x",p.range[0]).attr("y",7).attr("width",p.range[1]-p.range[0]).attr("height",1440)
    .attr("fill","none").attr("stroke","#000").attr("stroke-width",4);
  const t = svg.append("text").attr("x",(p.range[0]+p.range[1])/2+3).attr("y",1557).attr("text-anchor","middle")
    .attr("font-family","'Liberation Serif',serif").attr("font-size",82).attr("fill","#000");
  t.append("tspan").text("(");
  t.append("tspan").attr("font-weight","bold").text(p.label);
  t.append("tspan").text(")");
});
</script>
</body>
</html>
